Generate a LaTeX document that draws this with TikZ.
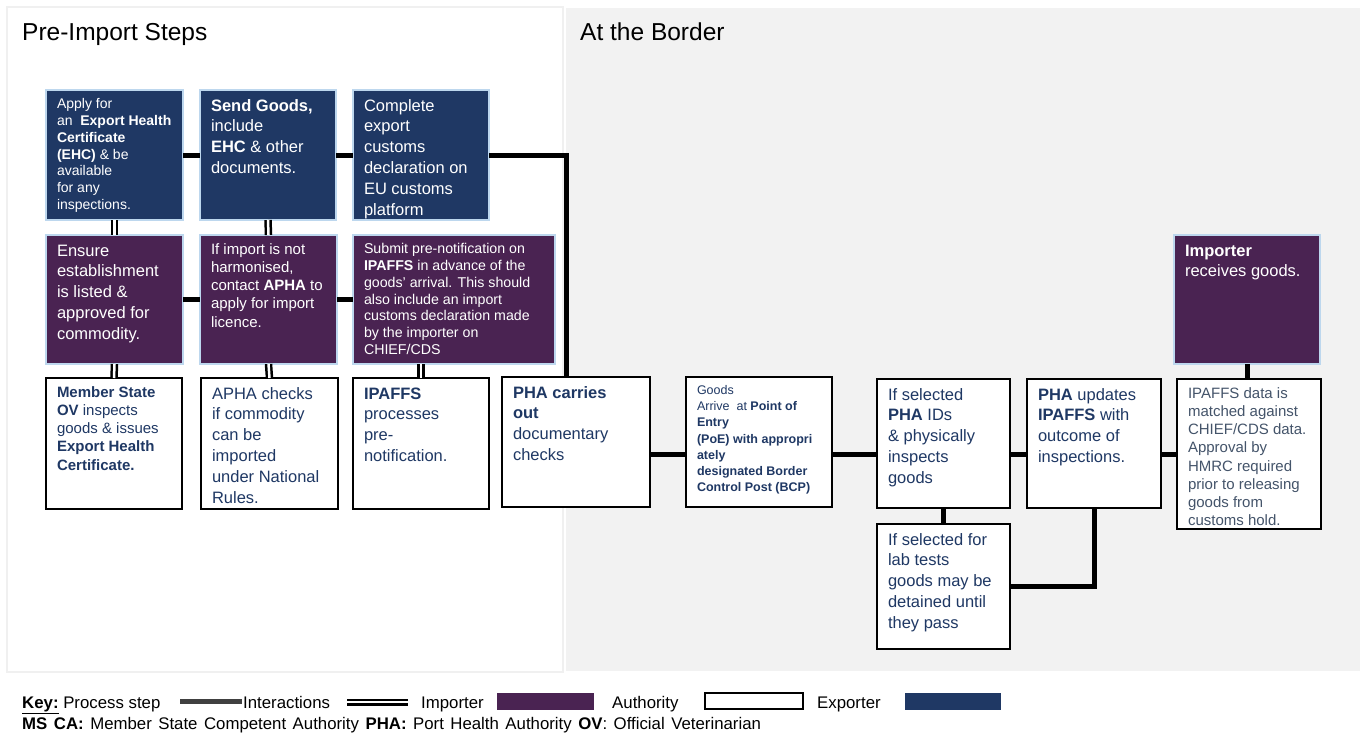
\documentclass[tikz,border=0pt]{standalone}
\usepackage{fontspec}
\setmainfont{Liberation Sans}
\definecolor{expblue}{HTML}{1F3864}
\definecolor{imppurple}{HTML}{4A2352}
\definecolor{edgeblue}{HTML}{BDD7EE}
\definecolor{authtext}{HTML}{1F3864}
\definecolor{ipdtext}{HTML}{44546A}
\definecolor{panelgray}{HTML}{F2F2F2}
\definecolor{panelline}{HTML}{F0F0F0}
\definecolor{keygray}{HTML}{404040}
\newcommand\fA{\fontsize{14}{16.9}\selectfont}
\newcommand\fB{\fontsize{14.2}{16.9}\selectfont}
\newcommand\fL{\fontsize{16.5}{20.8}\selectfont}
\newcommand\fM{\fontsize{15}{18.2}\selectfont}
\newcommand\fS{\fontsize{12.5}{16.1}\selectfont}
\newcommand\fK{\fontsize{16.8}{19}\selectfont}
\newcommand\stepbox[7]{%
  \node[#1, anchor=north west, inner sep=0pt, outer sep=0pt,
        minimum width=#5pt, minimum height=#6pt] (#2) at (#3,#4)
  {\parbox[c][#6pt][t]{#5pt}{\vspace*{6.5pt}\leftskip=11pt\rightskip=0pt plus 1fil\parfillskip=0pt plus 1fil #7\par}};}
\tikzset{
  expbox/.style={draw=edgeblue, line width=1.5pt, fill=expblue, text=white},
  impbox/.style={draw=edgeblue, line width=1.5pt, fill=imppurple, text=white},
  authbox/.style={draw=black, line width=2pt, fill=white, text=authtext},
  ipdbox/.style={draw=black, line width=2pt, fill=white, text=ipdtext},
  proc/.style={draw=black, line width=5pt},
  inter/.style={draw=black, double=white, double distance=2.5pt, line width=2.5pt},
  title/.style={anchor=base west, inner sep=0pt, font=\fontsize{24.5}{28}\selectfont},
  keytext/.style={anchor=base west, inner sep=0pt, font=\fK},
}
\begin{document}
\begin{tikzpicture}[x=1pt,y=-1pt]
\useasboundingbox (0,0) rectangle (1362,734);
% panels
\fill[panelgray] (566,8) rectangle (1360,671);
\draw[panelline, line width=2pt, fill=white] (7,7) rectangle (563,672);
\node[title] (t1) at (22,40) {Pre-Import Steps};
\node[title] (t2) at (580,40) {At the Border};
% row 1 exporter
\stepbox{expbox}{a1}{46}{90}{137}{130}{\fA\strut Apply for\\ an\ \ \textbf{Export Health}\\ \textbf{Certificate}\\ \textbf{(EHC)} \& be\\ available\\ for any\\ inspections.}
\stepbox{expbox}{a2}{200}{90}{136}{130}{\fL\strut\textbf{Send Goods,}\\ include\\ \textbf{EHC} \& other\\ documents.}
\stepbox{expbox}{a3}{353}{90}{136}{130}{\fL\strut Complete\\ export\\ customs\\ declaration on\\ EU customs\\ platform}
% row 2 importer
\stepbox{impbox}{b1}{46}{235}{137}{129}{\fL\strut Ensure\\ establishment\\ is listed \&\\ approved for\\ commodity.}
\stepbox{impbox}{b2}{200}{235}{137}{129}{\fM\strut If import is not\\ harmonised,\\ contact \textbf{APHA} to\\ apply for import\\ licence.}
\stepbox{impbox}{b3}{353}{235}{202}{129}{\fB\strut Submit pre-notification on\\ \textbf{IPAFFS} in advance of the\\ goods' arrival. This should\\ also include an import\\ customs declaration made\\ by the importer on\\ CHIEF/CDS}
% row 3 authority
\stepbox{authbox}{c1}{46}{378}{136}{131}{\fM\strut\textbf{Member State}\\ \textbf{OV} inspects\\ goods \& issues\\ \textbf{Export Health}\\ \textbf{Certificate.}}
\stepbox{authbox}{c2}{201}{378}{137}{131}{\fL\strut APHA checks\\ if commodity\\ can be\\ imported\\ under National\\ Rules.}
\stepbox{authbox}{c3}{353}{378}{136}{131}{\fL\strut\textbf{IPAFFS}\\ processes\\ pre-\\ notification.}
\stepbox{authbox}{pha}{502}{377}{148}{130}{\fL\strut\textbf{PHA carries}\\ \textbf{out}\\ documentary\\ checks}
\stepbox{authbox}{goods}{686}{377}{146}{130}{\fS\strut Goods\\ Arrive\ \ at \textbf{Point of}\\ \textbf{Entry}\\ \textbf{(PoE) with appropri}\\ \textbf{ately}\\ \textbf{designated Border}\\ \textbf{Control Post (BCP)}}
\stepbox{authbox}{sel}{877}{379}{133}{129}{\fL\strut If selected\\ \textbf{PHA} IDs\\ \& physically\\ inspects\\ goods}
\stepbox{authbox}{lab}{877}{524}{133}{125}{\fL\strut If selected for\\ lab tests\\ goods may be\\ detained until\\ they pass}
\stepbox{authbox}{phu}{1027}{379}{134}{129}{\fL\strut\textbf{PHA} updates\\ \textbf{IPAFFS} with\\ outcome of\\ inspections.}
\stepbox{ipdbox}{ipd}{1177}{379}{144}{150}{\fM\strut IPAFFS data is\\ matched against\\ CHIEF/CDS data.\\ Approval by\\ HMRC required\\ prior to releasing\\ goods from\\ customs hold.}
\stepbox{impbox}{imp}{1174}{235}{146}{129}{\fL\strut\textbf{Importer}\\ receives goods.}
% process connectors
\draw[proc] (a1.east) -- (a2.west);
\draw[proc] (a2.east) -- (a3.west);
\draw[proc] (a3.east) -| ([xshift=-10pt]pha.north);
\draw[proc] (b1.east) -- (b2.west);
\draw[proc] (b2.east) -- (b3.west);
\draw[proc] (pha.east |- ipd.west) -- (goods.west |- ipd.west);
\draw[proc] (goods.east |- ipd.west) -- (sel.west |- ipd.west);
\draw[proc] (sel.east |- ipd.west) -- (phu.west |- ipd.west);
\draw[proc] (phu.east |- ipd.west) -- (ipd.west);
\draw[proc] (sel.south) -- (lab.north);
\draw[proc] (lab.east) -| (phu.south);
\draw[proc] (imp.south) -- (imp.south |- ipd.north);
% interactions
\draw[inter] (a1.south) -- (b1.north);
\draw[inter] (a2.south) -- (b2.north);
\draw[inter] (b1.south) -- (c1.north);
\draw[inter] (b2.south) -- (c2.north);
\draw[inter] (c3.north |- b3.south) -- (c3.north);
% key
\node[keytext] (k1) at (22,708) {\underline{\textbf{Key:}} Process step};
\draw[keygray, line width=5pt] (180,701) -- (242,701);
\node[keytext] (k2) at (243,708) {Interactions};
\draw[draw=black, double=white, double distance=2pt, line width=2.5pt] (347,702) -- (408,702);
\node[keytext] (k3) at (421,708) {Importer};
\fill[imppurple] (497,693) rectangle (594,710);
\node[keytext] (k4) at (612,708) {Authority};
\draw[black, line width=1.5pt, fill=white] (705,693) rectangle (803,709);
\node[keytext] (k5) at (817,708) {Exporter};
\fill[expblue] (905,693) rectangle (1001,710);
\node[keytext] (k6) at (22,729) {\spaceskip=6.5pt plus 1pt\textbf{MS CA:} Member State Competent Authority \textbf{PHA:} Port Health Authority \textbf{OV}: Official Veterinarian};
\end{tikzpicture}
\end{document}
